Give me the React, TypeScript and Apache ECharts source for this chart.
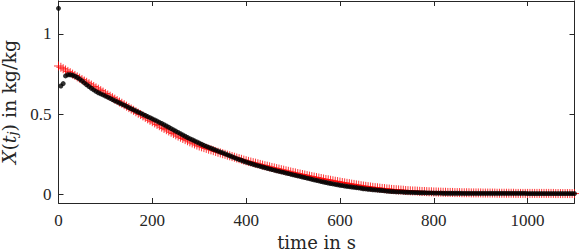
import React, { useEffect, useRef } from "react";
import * as echarts from "echarts";

// sampling step of the measurements (s)
const timeStep = 5;

// model prediction X(t_j) (red +), one value every 5 s from 0 to 1100 s
const modelValues = [
  0.800, 0.792, 0.783, 0.775, 0.766, 0.758, 0.749, 0.741, 0.732, 0.724,
  0.715, 0.706, 0.698, 0.689, 0.681, 0.672, 0.663, 0.655, 0.646, 0.637,
  0.628, 0.619, 0.611, 0.602, 0.593, 0.584, 0.575, 0.567, 0.558, 0.549,
  0.540, 0.531, 0.523, 0.514, 0.505, 0.497, 0.488, 0.479, 0.470, 0.461,
  0.452, 0.444, 0.435, 0.427, 0.418, 0.410, 0.402, 0.394, 0.386, 0.378,
  0.370, 0.362, 0.355, 0.347, 0.340, 0.333, 0.326, 0.319, 0.313, 0.306,
  0.300, 0.295, 0.290, 0.285, 0.280, 0.276, 0.271, 0.266, 0.261, 0.257,
  0.252, 0.248, 0.243, 0.239, 0.234, 0.230, 0.225, 0.221, 0.217, 0.212,
  0.208, 0.204, 0.200, 0.196, 0.193, 0.189, 0.185, 0.181, 0.177, 0.174,
  0.170, 0.166, 0.163, 0.159, 0.156, 0.152, 0.149, 0.145, 0.142, 0.138,
  0.135, 0.132, 0.128, 0.125, 0.122, 0.119, 0.115, 0.112, 0.109, 0.106,
  0.103, 0.100, 0.097, 0.094, 0.091, 0.089, 0.086, 0.083, 0.080, 0.078,
  0.075, 0.072, 0.070, 0.067, 0.065, 0.062, 0.060, 0.057, 0.055, 0.052,
  0.050, 0.048, 0.046, 0.044, 0.042, 0.040, 0.039, 0.037, 0.035, 0.034,
  0.032, 0.031, 0.029, 0.028, 0.027, 0.026, 0.025, 0.024, 0.022, 0.021,
  0.020, 0.019, 0.019, 0.018, 0.017, 0.016, 0.016, 0.015, 0.014, 0.014,
  0.013, 0.013, 0.012, 0.012, 0.011, 0.011, 0.010, 0.010, 0.010, 0.009,
  0.009, 0.009, 0.008, 0.008, 0.008, 0.008, 0.007, 0.007, 0.007, 0.007,
  0.007, 0.006, 0.006, 0.006, 0.006, 0.006, 0.006, 0.005, 0.005, 0.005,
  0.005, 0.005, 0.005, 0.005, 0.005, 0.004, 0.004, 0.004, 0.004, 0.004,
  0.004, 0.004, 0.004, 0.004, 0.004, 0.004, 0.004, 0.004, 0.004, 0.004,
  0.004, 0.004, 0.003, 0.003, 0.003, 0.003, 0.003, 0.003, 0.003, 0.003,
  0.003,
];

// measured X(t_j) (black dots), one value every 5 s from 0 to 1100 s
const measuredValues = [
  1.160, 0.675, 0.690, 0.738, 0.745, 0.745, 0.742, 0.736, 0.728, 0.718,
  0.707, 0.695, 0.683, 0.672, 0.661, 0.651, 0.641, 0.633, 0.626, 0.619,
  0.612, 0.605, 0.598, 0.590, 0.583, 0.576, 0.569, 0.562, 0.555, 0.548,
  0.540, 0.533, 0.526, 0.519, 0.512, 0.505, 0.498, 0.491, 0.484, 0.477,
  0.470, 0.463, 0.456, 0.448, 0.441, 0.433, 0.425, 0.417, 0.409, 0.401,
  0.393, 0.385, 0.377, 0.369, 0.361, 0.353, 0.346, 0.339, 0.332, 0.325,
  0.318, 0.311, 0.304, 0.298, 0.292, 0.286, 0.280, 0.274, 0.268, 0.262,
  0.257, 0.251, 0.245, 0.239, 0.233, 0.227, 0.221, 0.216, 0.211, 0.205,
  0.200, 0.195, 0.191, 0.186, 0.181, 0.177, 0.173, 0.169, 0.165, 0.161,
  0.157, 0.153, 0.149, 0.145, 0.142, 0.138, 0.135, 0.131, 0.128, 0.124,
  0.120, 0.117, 0.113, 0.110, 0.106, 0.103, 0.099, 0.096, 0.092, 0.088,
  0.085, 0.082, 0.078, 0.075, 0.072, 0.069, 0.066, 0.063, 0.060, 0.058,
  0.055, 0.053, 0.050, 0.048, 0.046, 0.044, 0.042, 0.040, 0.038, 0.036,
  0.033, 0.032, 0.030, 0.029, 0.027, 0.026, 0.024, 0.023, 0.022, 0.020,
  0.018, 0.017, 0.016, 0.015, 0.014, 0.013, 0.013, 0.012, 0.011, 0.011,
  0.010, 0.010, 0.009, 0.009, 0.008, 0.008, 0.008, 0.007, 0.007, 0.007,
  0.006, 0.006, 0.006, 0.006, 0.005, 0.005, 0.005, 0.005, 0.005, 0.005,
  0.005, 0.005, 0.004, 0.004, 0.004, 0.004, 0.004, 0.004, 0.004, 0.004,
  0.004, 0.004, 0.004, 0.004, 0.004, 0.004, 0.004, 0.004, 0.004, 0.004,
  0.004, 0.004, 0.004, 0.004, 0.004, 0.004, 0.004, 0.004, 0.004, 0.004,
  0.003, 0.003, 0.003, 0.003, 0.003, 0.003, 0.003, 0.003, 0.003, 0.003,
  0.003, 0.003, 0.003, 0.003, 0.003, 0.003, 0.003, 0.003, 0.003, 0.003,
  0.003,
];

const xTickValues = [0, 200, 400, 600, 800, 1000];
const yTickValues = [0, 0.5, 1];
const xName = "time in s";

const FONT = "Liberation Serif";
const NAME_FONT = "DejaVu Serif";
const INK = "#262626";

export default function App() {
  const ref = useRef<HTMLDivElement>(null);
  useEffect(() => {
    if (!ref.current) return;
    const chart = echarts.init(ref.current, null, { renderer: "svg" });
    const modelData = modelValues.map((v, i) => [i * timeStep, v]);
    const measData = measuredValues.map((v, i) => [i * timeStep, v]);
    const axisLine = { show: true, onZero: false, lineStyle: { color: INK, width: 1 } };
    const tick = (vals: number[]) => ({
      show: true,
      inside: true,
      length: 5,
      customValues: vals,
      lineStyle: { color: INK, width: 1 },
    });
    chart.setOption({
      animation: false,
      backgroundColor: "#ffffff",
      grid: {
        left: 58.5,
        right: 6.5,
        top: 1,
        bottom: 48,
        containLabel: false,
        outerBoundsMode: "none",
      },
      xAxis: [
        {
          type: "value",
          min: 0,
          max: 1100,
          position: "bottom",
          axisLine,
          axisTick: tick(xTickValues),
          splitLine: { show: false },
          axisLabel: {
            customValues: xTickValues,
            formatter: (v: number) => String(v),
            fontFamily: FONT,
            fontSize: 17,
            color: INK,
            margin: 9,
          },
          name: xName,
          nameLocation: "middle",
          nameGap: 30,
          nameTextStyle: { fontFamily: NAME_FONT, fontSize: 18, color: INK },
        },
        {
          type: "value",
          min: 0,
          max: 1100,
          position: "top",
          axisLine,
          axisTick: tick(xTickValues),
          axisLabel: { show: false },
          splitLine: { show: false },
        },
      ],
      yAxis: [
        {
          type: "value",
          min: -0.056,
          max: 1.206,
          position: "left",
          axisLine,
          axisTick: tick(yTickValues),
          splitLine: { show: false },
          axisLabel: {
            customValues: yTickValues,
            formatter: (v: number) => String(v),
            fontFamily: FONT,
            fontSize: 17,
            color: INK,
            margin: 7,
          },
          name: "{i|X}{n|(}{i|t}{s|j}{n|) in kg/kg}",
          nameLocation: "middle",
          nameGap: 29,
          nameRotate: 90,
          nameTextStyle: {
            fontFamily: NAME_FONT,
            fontSize: 19,
            color: INK,
            lineHeight: 20,
            rich: {
              n: { fontFamily: NAME_FONT, fontSize: 19, color: INK, lineHeight: 20 },
              i: { fontFamily: NAME_FONT, fontSize: 19, fontStyle: "italic", color: INK, lineHeight: 20 },
              s: {
                fontFamily: NAME_FONT,
                fontSize: 13,
                fontStyle: "italic",
                color: INK,
                lineHeight: 20,
                verticalAlign: "bottom",
              },
            },
          },
        },
        {
          type: "value",
          min: -0.056,
          max: 1.206,
          position: "right",
          axisLine,
          axisTick: tick(yTickValues),
          axisLabel: { show: false },
          splitLine: { show: false },
        },
      ],
      series: [
        {
          type: "scatter",
          data: modelData,
          symbol: "path://M5,0L5,10M0,5L10,5",
          symbolSize: 9,
          itemStyle: { color: "none", borderColor: "#ff0000", borderWidth: 1 },
          silent: true,
        },
        {
          type: "scatter",
          data: measData,
          symbol: "circle",
          symbolSize: 5,
          itemStyle: { color: "#000000" },
          silent: true,
        },
      ],
    });
    return () => chart.dispose();
  }, []);
  return <div ref={ref} style={{ width: 581, height: 251, position: "absolute", left: 0, top: 0 }} />;
}
